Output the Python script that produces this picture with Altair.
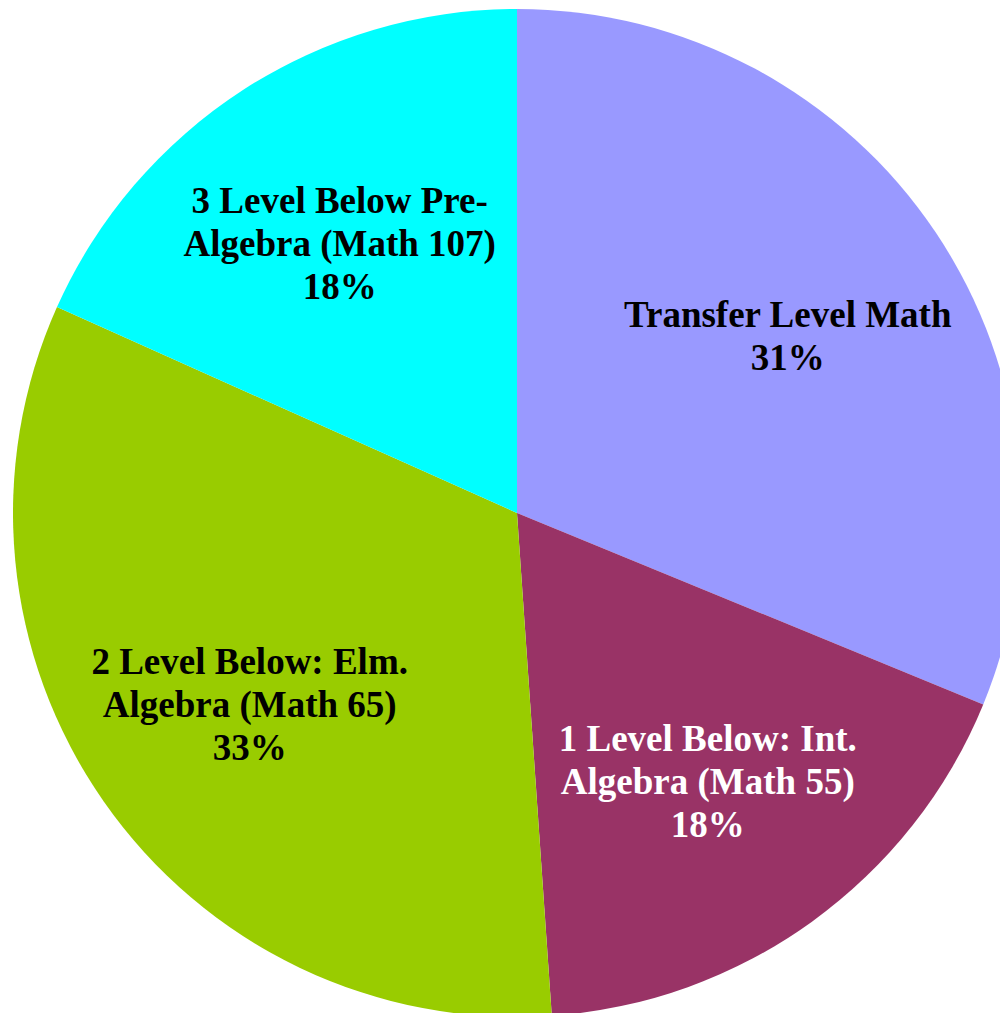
import altair as alt
import pandas as pd

categories = [
    "Transfer Level Math",
    "1 Level Below: Int. Algebra (Math 55)",
    "2 Level Below: Elm. Algebra (Math 65)",
    "3 Level Below Pre-Algebra (Math 107)",
]
label_lines = [
    ["Transfer Level Math"],
    ["1 Level Below: Int.", "Algebra (Math 55)"],
    ["2 Level Below: Elm.", "Algebra (Math 65)"],
    ["3 Level Below Pre-", "Algebra (Math 107)"],
]
values = [31.2, 17.7, 32.8, 18.3]
colors = ["#9999FF", "#993366", "#99CC00", "#00FFFF"]

rows = []
for i, (c, lines, v) in enumerate(zip(categories, label_lines, values)):
    rows.append({
        "category": c,
        "order": i,
        "value": v,
        "label": lines + [f"{round(v)}%"],
    })
df = pd.DataFrame(rows)

cx, cy = 509, 505
line_h = 43

base = alt.Chart(df).encode(
    theta=alt.Theta("value:Q", stack=True),
    order=alt.Order("order:Q", sort="ascending"),
)

pie = base.mark_arc(radius=504).encode(
    x=alt.value(cx),
    y=alt.value(cy),
    color=alt.Color("category:N", scale=alt.Scale(domain=categories, range=colors), legend=None),
)

text = base.mark_text(
    radius=326,
    font="'Liberation Serif', 'Times New Roman', Times, serif",
    fontWeight="bold",
    fontSize=37,
    lineHeight=line_h,
    align="center",
    baseline="middle",
    dy=alt.ExprRef(f"6 - (length(datum.label) - 1) * {line_h / 2}"),
).encode(
    x=alt.value(cx),
    y=alt.value(cy),
    text="label",
    color=alt.condition(
        alt.datum.category == categories[1], alt.value("white"), alt.value("black")
    ),
)

chart = (pie + text).properties(
    width=992, height=1005, padding=0, autosize=alt.AutoSizeParams(type="none")
).configure_view(stroke=None)

chart.save("out.html", embed_options={"renderer": "svg", "actions": False})
